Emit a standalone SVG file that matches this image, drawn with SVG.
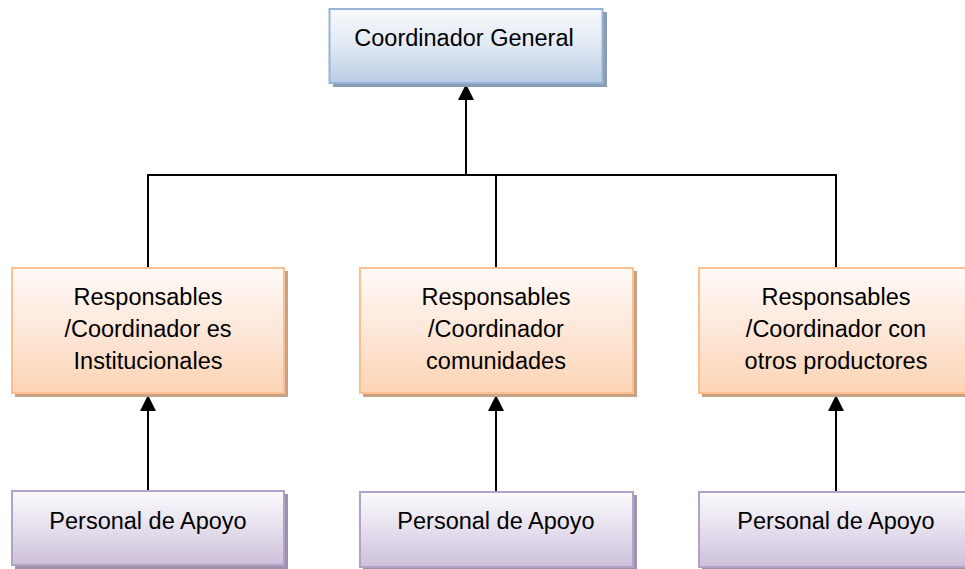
<svg xmlns="http://www.w3.org/2000/svg" width="965" height="569" viewBox="0 0 965 569">
<style>
text{font-family:"Liberation Sans",Arial,sans-serif;font-size:23.5px;fill:#000;text-anchor:middle}
.blue{fill:url(#gBlue);stroke:#95b3d7;stroke-width:2}
.orange{fill:url(#gOrange);stroke:#fac090;stroke-width:2}
.purple{fill:url(#gPurple);stroke:#b3a2c7;stroke-width:2}
.shB{fill:#8c9cb3}
.shO{fill:#c9a285}
.shP{fill:#9d91ad}
.ln{stroke:#000;stroke-width:2;fill:none}
</style>
<defs>
<linearGradient id="gBlue" x1="0" y1="0" x2="0" y2="1"><stop offset="0" stop-color="#f7f9fc"/><stop offset="0.45" stop-color="#e4ebf4"/><stop offset="1" stop-color="#b9cde5"/></linearGradient>
<linearGradient id="gOrange" x1="0" y1="0" x2="0" y2="1"><stop offset="0" stop-color="#fffaf7"/><stop offset="0.45" stop-color="#fde9dc"/><stop offset="1" stop-color="#fbd4b4"/></linearGradient>
<linearGradient id="gPurple" x1="0" y1="0" x2="0" y2="1"><stop offset="0" stop-color="#fbfafd"/><stop offset="0.45" stop-color="#e8e2ef"/><stop offset="1" stop-color="#ccc0da"/></linearGradient>
<marker id="arr" viewBox="0 0 10 10" refX="10" refY="5" markerWidth="16" markerHeight="16" markerUnits="userSpaceOnUse" orient="auto"><path d="M0,0 L10,5 L0,10 Z" fill="#000"/></marker>
</defs>
<g id="connectors">
<path class="ln" d="M148,268 V175 H836 V268"/>
<path class="ln" d="M496,175 V268"/>
<path class="ln" d="M466,175 H496" stroke-width="3"/>
<path class="ln" d="M466,176 V84" stroke-width="2.5" marker-end="url(#arr)"/>
<path class="ln" d="M148,491 V395" marker-end="url(#arr)"/>
<path class="ln" d="M496,491 V395" marker-end="url(#arr)"/>
<path class="ln" d="M836,491 V395" marker-end="url(#arr)"/>
</g>
<g id="coordinador-general">
<rect class="shB" x="333" y="12" width="274" height="75"/>
<rect class="blue" x="329.5" y="9" width="273" height="74"/>
<text x="464" y="46">Coordinador General</text>
</g>
<g id="responsables-institucionales">
<rect class="shO" x="15" y="271" width="273" height="126"/>
<rect class="orange" x="12" y="268" width="272" height="125"/>
<text x="148" y="305">Responsables</text>
<text x="148" y="337">/Coordinador es</text>
<text x="148" y="369">Institucionales</text>
</g>
<g id="responsables-comunidades">
<rect class="shO" x="363" y="271" width="274" height="126"/>
<rect class="orange" x="360" y="268" width="273" height="125"/>
<text x="496" y="305">Responsables</text>
<text x="496" y="337">/Coordinador</text>
<text x="496" y="369">comunidades</text>
</g>
<g id="responsables-productores">
<rect class="shO" x="702" y="271" width="274" height="126"/>
<rect class="orange" x="699" y="268" width="273" height="125"/>
<text x="836" y="305">Responsables</text>
<text x="836" y="337">/Coordinador con</text>
<text x="836" y="369">otros productores</text>
</g>
<g id="personal-apoyo-1">
<rect class="shP" x="15" y="494" width="273" height="75"/>
<rect class="purple" x="12" y="491" width="272" height="74"/>
<text x="148" y="529">Personal de Apoyo</text>
</g>
<g id="personal-apoyo-2">
<rect class="shP" x="363" y="495" width="274" height="75"/>
<rect class="purple" x="360" y="492" width="273" height="75"/>
<text x="496" y="529">Personal de Apoyo</text>
</g>
<g id="personal-apoyo-3">
<rect class="shP" x="702" y="495" width="274" height="75"/>
<rect class="purple" x="699" y="492" width="273" height="75"/>
<text x="836" y="529">Personal de Apoyo</text>
</g>
</svg>
